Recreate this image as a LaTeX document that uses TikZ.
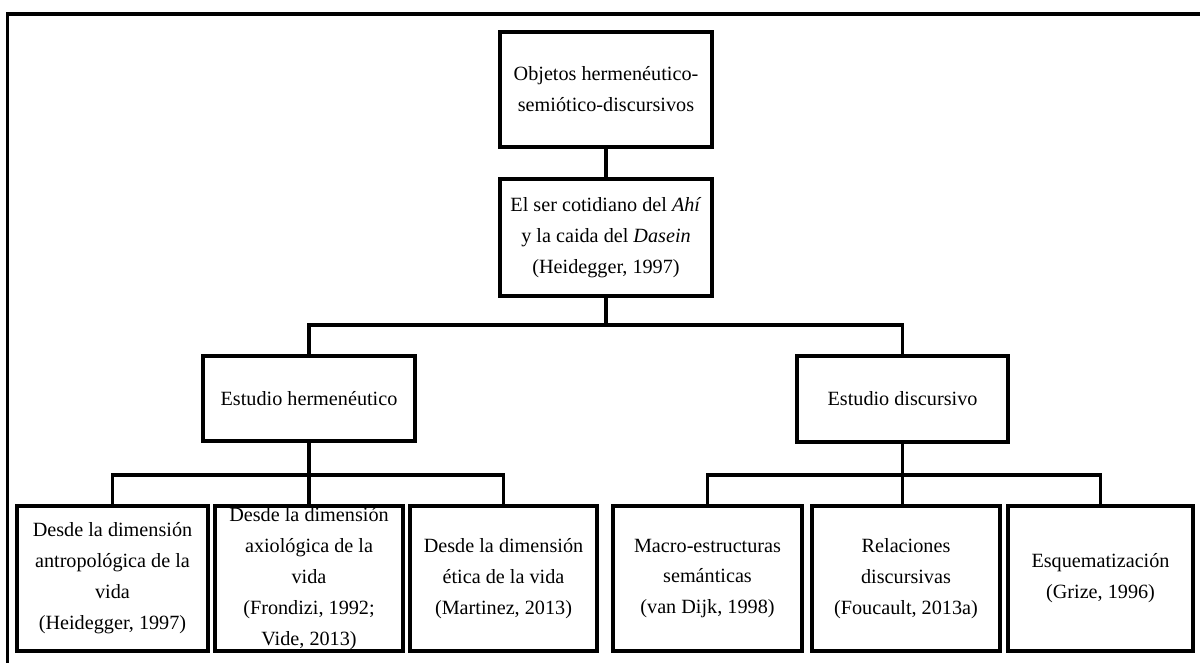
\documentclass[tikz,border=0pt]{standalone}
\usepackage{fontspec}
\setmainfont{Liberation Serif}
\begin{document}
\begin{tikzpicture}[boxstyle/.style={draw,line width=2.3pt,align=center,inner sep=0pt,
  font=\fontsize{11.5}{17.6}\selectfont},
  linkstyle/.style={line width=1.8pt}]
\useasboundingbox (0,0) rectangle (24,-13.26);
\draw[linkstyle] (0.15,-13.26) -- (0.15,-0.28) -- (24,-0.28);

\node[boxstyle,minimum width=4.24cm,minimum height=2.30cm](obj) at (12.12,-1.79)
 {Objetos hermenéutico-\\semiótico-discursivos};
\node[boxstyle,minimum width=4.24cm,minimum height=2.34cm](ser) at (12.12,-4.75)
 {El ser cotidiano del \textit{Ahí}\\y la caida del \textit{Dasein}\\(Heidegger, 1997)};
\node[boxstyle,minimum width=4.24cm,minimum height=1.70cm](herm) at (6.18,-7.97)
 {Estudio hermenéutico};
\node[boxstyle,minimum width=4.22cm,minimum height=1.72cm](disc) at (18.05,-7.98)
 {Estudio discursivo};

\foreach \n/\x/\w/\t in {b1/2.25/3.82/{Desde la dimensión\\antropológica de la\\vida\\(Heidegger, 1997)},
 b2/6.18/3.76/{Desde la dimensión\\axiológica de la\\vida\\(Frondizi, 1992;\\Vide, 2013)},
 b3/10.07/3.74/{Desde la dimensión\\ética de la vida\\(Martinez, 2013)},
 b4/14.15/3.78/{Macro-estructuras\\semánticas\\(van Dijk, 1998)},
 b5/18.12/3.76/{Relaciones\\discursivas\\(Foucault, 2013a)},
 b6/22.01/3.70/{Esquematización\\(Grize, 1996)}}
{\node[boxstyle,minimum width=\w cm,minimum height=2.90cm](\n) at (\x,-11.57){\t};
}

\coordinate (j1) at (12.12,-6.5);
\coordinate (j2) at (6.18,-9.5);
\coordinate (j3) at (18.05,-9.5);
\draw[linkstyle] (obj)--(ser) (ser)--(j1) (herm.north)|-(j1)-|(disc.north)
(herm)--(j2) (j2)--(b2) (b1.north)|-(j2)-|(b3.north)
(disc)--(j3) (j3)--(j3|-b5.north) (b4.north)|-(j3)-|(b6.north);

\end{tikzpicture}
\end{document}
